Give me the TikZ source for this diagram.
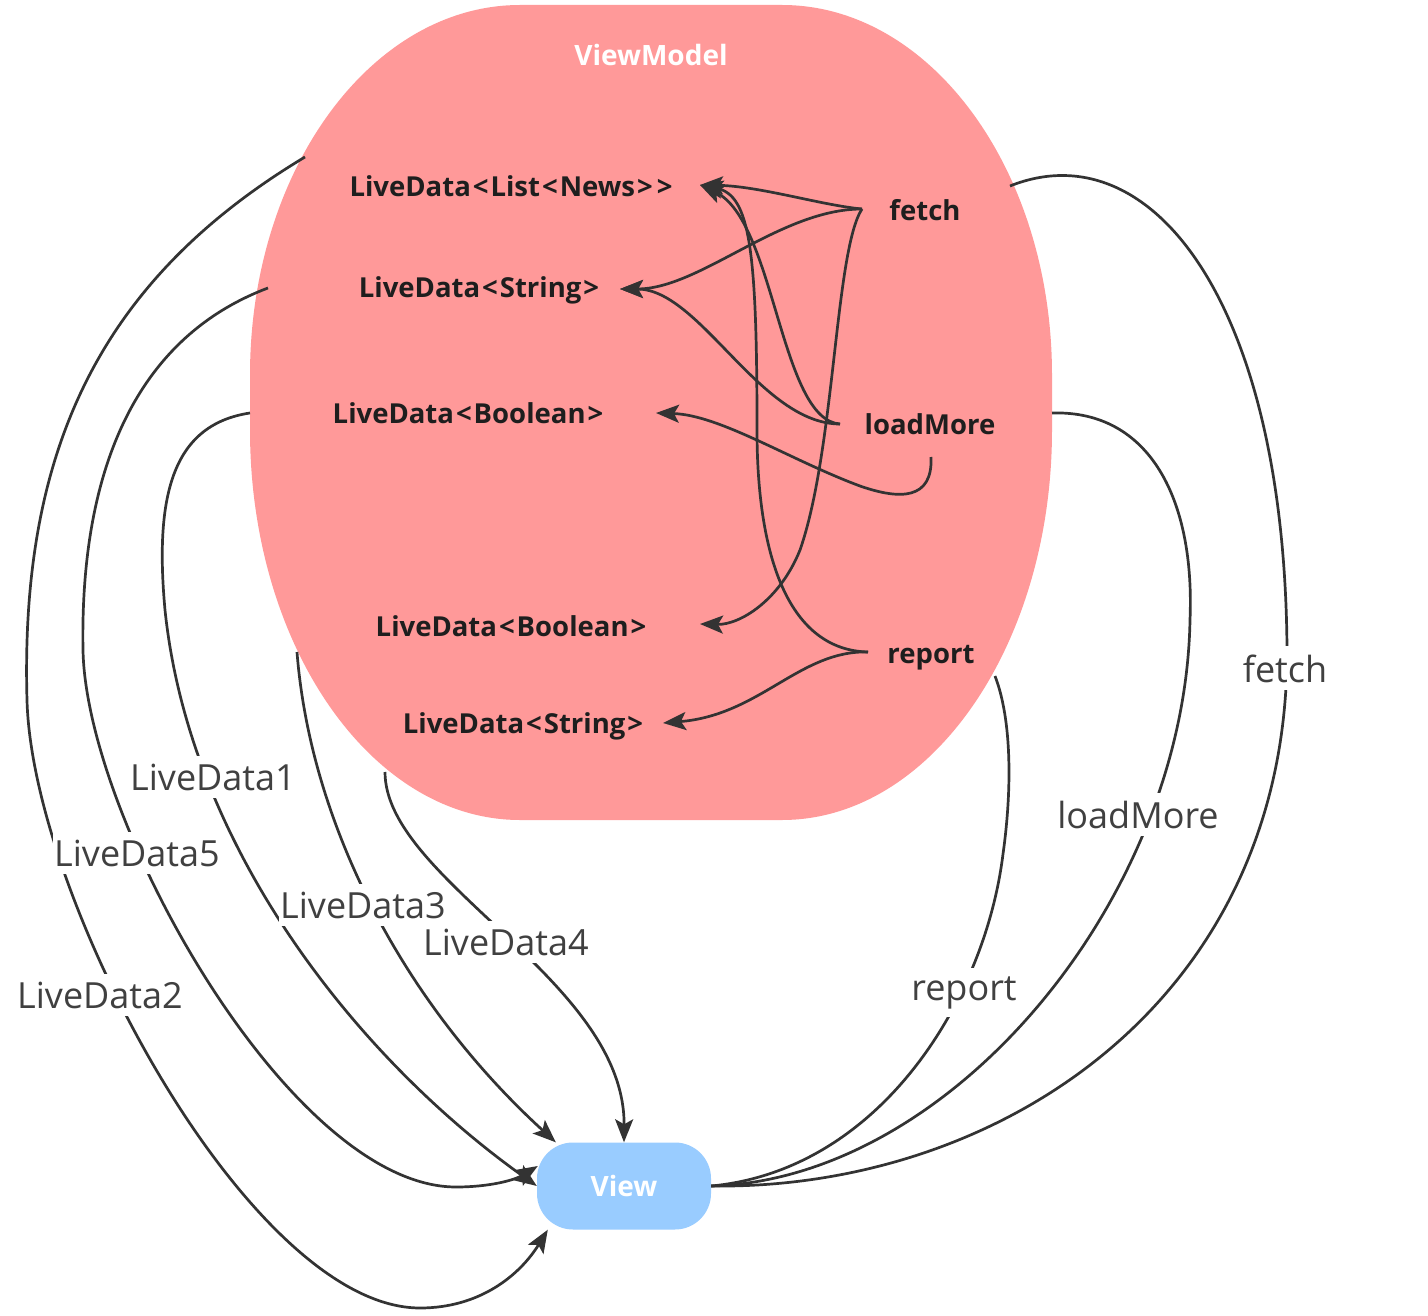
\documentclass[tikz,border=0pt]{standalone}
\usepackage{fontspec}
\setmainfont{Open Sans}
\usetikzlibrary{arrows.meta,calc}
\definecolor{vmpink}{RGB}{255,153,153}
\definecolor{viewblue}{RGB}{153,204,255}
\definecolor{ink}{RGB}{51,51,51}
\definecolor{lblgray}{RGB}{64,64,64}
\definecolor{boldink}{RGB}{30,30,30}
\newcommand{\lt}{\kern2pt\textless\kern2pt}
\newcommand{\gt}{\kern2pt\textgreater\kern2pt}
\begin{document}
\begin{tikzpicture}[x=1pt,y=-1pt,
  conn/.style={draw=ink, line width=2.7pt},
  arr/.style={conn, -{Stealth[length=23pt,width=18pt,inset=5pt]}},
  innerlbl/.style={font=\fontsize{27.5}{30}\selectfont\bfseries, text=boldink, inner sep=0pt, anchor=base},
  edgelbl/.style={font=\fontsize{36}{40}\selectfont, text=lblgray, fill=white, inner xsep=1pt, inner ysep=8pt, anchor=base},
  viewbox/.style={fill=viewblue, rounded corners=36pt, minimum width=174pt, minimum height=87pt, inner sep=0pt,
    font=\fontsize{28}{30}\selectfont\bfseries, text=white},
]
\useasboundingbox (0,0) rectangle (1428,1316);
\fill[white] (0,0) rectangle (1428,1316);

% ViewModel container
\fill[vmpink] (520,5) -- (782,5) .. controls (931,5) and (1052,171) .. (1052,375)
  -- (1052,430) .. controls (1052,645) and (931,820) .. (782,820)
  -- (520,820) .. controls (371,820) and (250,645) .. (250,430)
  -- (250,375) .. controls (250,171) and (371,5) .. (520,5) -- cycle;
\node[font=\fontsize{28}{30}\selectfont\bfseries, text=white, anchor=base, inner sep=0pt] (vmtitle) at (651,66) {ViewModel};

% inner nodes
\node[innerlbl] (ldList) at (512,197) {LiveData\lt List\lt News\gt\gt};
\node[innerlbl] (ldStr1) at (480,298) {LiveData\lt String\gt};
\node[innerlbl] (ldBool1) at (469,423) {LiveData\lt Boolean\gt};
\node[innerlbl] (ldBool2) at (512,636) {LiveData\lt Boolean\gt};
\node[innerlbl] (ldStr2) at (524,733) {LiveData\lt String\gt};
\node[innerlbl] (fetch) at (925,221) {fetch};
\node[innerlbl] (loadMore) at (930,434) {loadMore};
\node[innerlbl] (report) at (931,663) {report};

% View node
\node[viewbox] (view) at (624,1186) {View};

% connector end points
\coordinate (fetchP) at (862,209);
\coordinate (lmP) at (840,424);
\coordinate (lmS) at (931,457);
\coordinate (repP) at (868,652);
\coordinate (tList) at (700,185);
\coordinate (tStr1) at (620,289);
\coordinate (tBool1) at (656,413);
\coordinate (tBool2) at (700,624);
\coordinate (tStr2) at (663,723);

\coordinate (vmA) at (305,157);
\coordinate (vmB) at (268,288);
\coordinate (vmC) at (250,413);
\coordinate (vmD) at (297,652);
\coordinate (vmE) at (385,772);
\coordinate (vmF) at (1010,186);
\coordinate (vmG) at (1052,413);
\coordinate (vmH) at (995,676);

\coordinate (v2end) at ($(view.south west)+(11,0)$);
\coordinate (v5end) at ($(view.west)+(1,-20)$);
\coordinate (v3end) at ($(view.north west)+(19,0)$);

% inner connectors
\draw[arr] (fetchP) .. controls (820,205) and (760,186) .. (tList);
\draw[arr] (fetchP) .. controls (780,209) and (700,289) .. (tStr1);
\draw[arr] (fetchP) .. controls (835,250) and (835,450) .. (800,550) .. controls (780,600) and (740,625) .. (tBool2);
\draw[arr] (lmP) .. controls (780,420) and (775,220) .. (tList);
\draw[arr] (lmP) .. controls (760,424) and (700,289) .. (tStr1);
\draw[arr] (lmS) .. controls (933,500) and (900,500) .. (860,486) .. controls (790,460) and (720,415) .. (tBool1);
\draw[arr] (repP) .. controls (790,650) and (757,560) .. (757,430) .. controls (757,250) and (750,195) .. (tList);
\draw[arr] (repP) .. controls (800,650) and (760,715) .. (tStr2);

% left connectors to View
\draw[arr] (vmA) .. controls (100,280) and (20,450) .. (27,700) .. controls (32,900) and (250,1308) .. (420,1308) .. controls (480,1308) and (520,1275) .. (v2end);
\draw[arr] (vmB) .. controls (130,340) and (80,480) .. (83,650) .. controls (86,820) and (290,1187) .. (456,1187) .. controls (490,1187) and (515,1180) .. (v5end);
\draw[arr] (vmC) .. controls (170,425) and (155,500) .. (165,610) .. controls (190,850) and (360,1060) .. (view.west);
\draw[arr] (vmD) .. controls (310,820) and (400,1000) .. (v3end);
\draw[arr] (vmE) .. controls (385,880) and (625,980) .. (view.north);

% right connectors from View
\draw[conn] (vmF) .. controls (1150,130) and (1285,300) .. (1287,650) .. controls (1288,1000) and (1000,1190) .. (view.east);
\draw[conn] (vmG) .. controls (1150,410) and (1195,500) .. (1190,620) .. controls (1185,900) and (950,1180) .. (view.east);
\draw[conn] (vmH) .. controls (1012,720) and (1012,790) .. (1003,854) .. controls (985,1000) and (880,1170) .. (view.east);

% edge labels
\node[edgelbl] (lbl1) at (213,790) {LiveData1};
\node[edgelbl] (lbl5) at (137,866) {LiveData5};
\node[edgelbl] (lbl3) at (363,918) {LiveData3};
\node[edgelbl] (lbl4) at (506,955) {LiveData4};
\node[edgelbl] (lbl2) at (100,1008) {LiveData2};
\node[edgelbl] (lblF) at (1285,682) {fetch};
\node[edgelbl] (lblL) at (1138,828) {loadMore};
\node[edgelbl] (lblR) at (964,1000) {report};
\end{tikzpicture}
\end{document}
